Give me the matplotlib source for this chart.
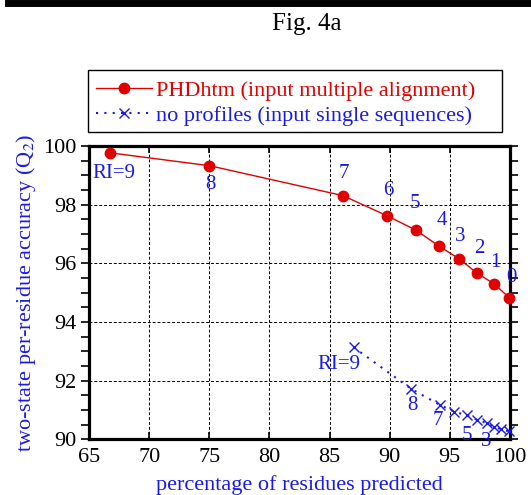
import numpy as np
import matplotlib.pyplot as plt
from matplotlib.ticker import MultipleLocator
from matplotlib.patches import Rectangle

plt.rcParams['font.family'] = ['Liberation Serif', 'DejaVu Serif']
plt.rcParams['mathtext.fontset'] = 'stix'

# PHDhtm (input multiple alignment), RI = 9 .. 0
phd_x = [66.7, 75.0, 86.1, 89.8, 92.2, 94.1, 95.8, 97.3, 98.7, 99.95]
phd_y = [99.77, 99.33, 98.31, 97.62, 97.13, 96.59, 96.15, 95.66, 95.30, 94.83]
phd_lab = ['RI=9', '8', '7', '6', '5', '4', '3', '2', '1', '0']

# no profiles (input single sequences), RI = 9 .. 0
nop_x = [87.0, 91.8, 94.2, 95.4, 96.4, 97.3, 98.1, 98.7, 99.3, 99.95]
nop_y = [93.14, 91.72, 91.17, 90.94, 90.82, 90.66, 90.55, 90.43, 90.34, 90.27]
nop_lab = ['RI=9', '8', '7', '', '5', '', '3', '', '', '']

red = '#e00000'
blue = '#1a1ae6'

fig = plt.figure(figsize=(5.31, 4.95), dpi=100)
ax = fig.add_axes([0.168, 0.1125, 0.792, 0.5925])

ax.plot(phd_x, phd_y, '-o', color=red, lw=1.0, ms=7.5, clip_on=False,
        label='PHDhtm (input multiple alignment)', zorder=5)
ax.plot(nop_x, nop_y, linestyle=(0, (1, 3)), marker='x', color=blue, lw=1.5,
        ms=7, mew=1.0, clip_on=False,
        label='no profiles (input single sequences)', zorder=5)

# RI labels next to the points (offsets in points)
red_off = [(3, -15), (1, -13.5), (0.5, 16), (1, 18), (-0.7, 19), (2, 18.7),
           (0.7, 16), (1.7, 18), (1.2, 15.3), (1.7, 14.7)]
for x, y, t, (dx, dy) in zip(phd_x, phd_y, phd_lab, red_off):
    ax.annotate(t, (x, y), xytext=(dx, dy), textcoords='offset points',
                ha='center', va='center', color=blue, fontsize=15, zorder=6)

blue_off = [(-10.8, -12.7), (1.2, -12.2), (-1.7, -11.5), (0, 0), (0, -14.4),
            (0, 0), (-0.7, -13.2), (0, 0), (0, 0), (0, 0)]
for x, y, t, (dx, dy) in zip(nop_x, nop_y, nop_lab, blue_off):
    if t:
        ax.annotate(t, (x, y), xytext=(dx, dy), textcoords='offset points',
                    ha='center', va='center', color=blue, fontsize=15, zorder=6)

ax.set_xlim(65, 100)
ax.set_ylim(90, 100)
ax.xaxis.set_major_locator(MultipleLocator(5))
ax.yaxis.set_major_locator(MultipleLocator(2))
ax.yaxis.set_minor_locator(MultipleLocator(0.5))
ax.grid(True, which='major', color='black', linestyle=(0, (3, 2)), lw=0.7)
ax.tick_params(axis='x', which='major', direction='in', top=True, length=5, width=1.2,
               labelsize=16, pad=6)
ax.tick_params(axis='y', which='both', direction='out', right=True, length=6, width=1.2,
               labelsize=16)
for s in ax.spines.values():
    s.set_linewidth(2.3)

ax.set_xlabel('percentage of residues predicted', color=blue, fontsize=16, labelpad=6)
ax.set_ylabel('two-state per-residue accuracy (Q$_2$)', color=blue, fontsize=16, labelpad=3)

leg = fig.legend(loc='upper left', bbox_to_anchor=(96 / 531, 1 - 80 / 495),
                 fontsize=16, frameon=False,
                 handlelength=2.5, handletextpad=0.2, borderpad=0,
                 labelspacing=0.2, borderaxespad=0)
for txt, c in zip(leg.get_texts(), [red, blue]):
    txt.set_color(c)
fig.add_artist(Rectangle((88 / 531, 1 - 132 / 495), 414 / 531, 62 / 495,
                         transform=fig.transFigure, fill=False, ec='black', lw=1.0))

fig.text(0.578, 0.952, 'Fig. 4a', ha='center', va='center', fontsize=18)
fig.add_artist(plt.Line2D([8 / 531, 1], [0.994, 0.994], color='black', lw=5,
                          transform=fig.transFigure))

fig.savefig('out.png', dpi=100)
